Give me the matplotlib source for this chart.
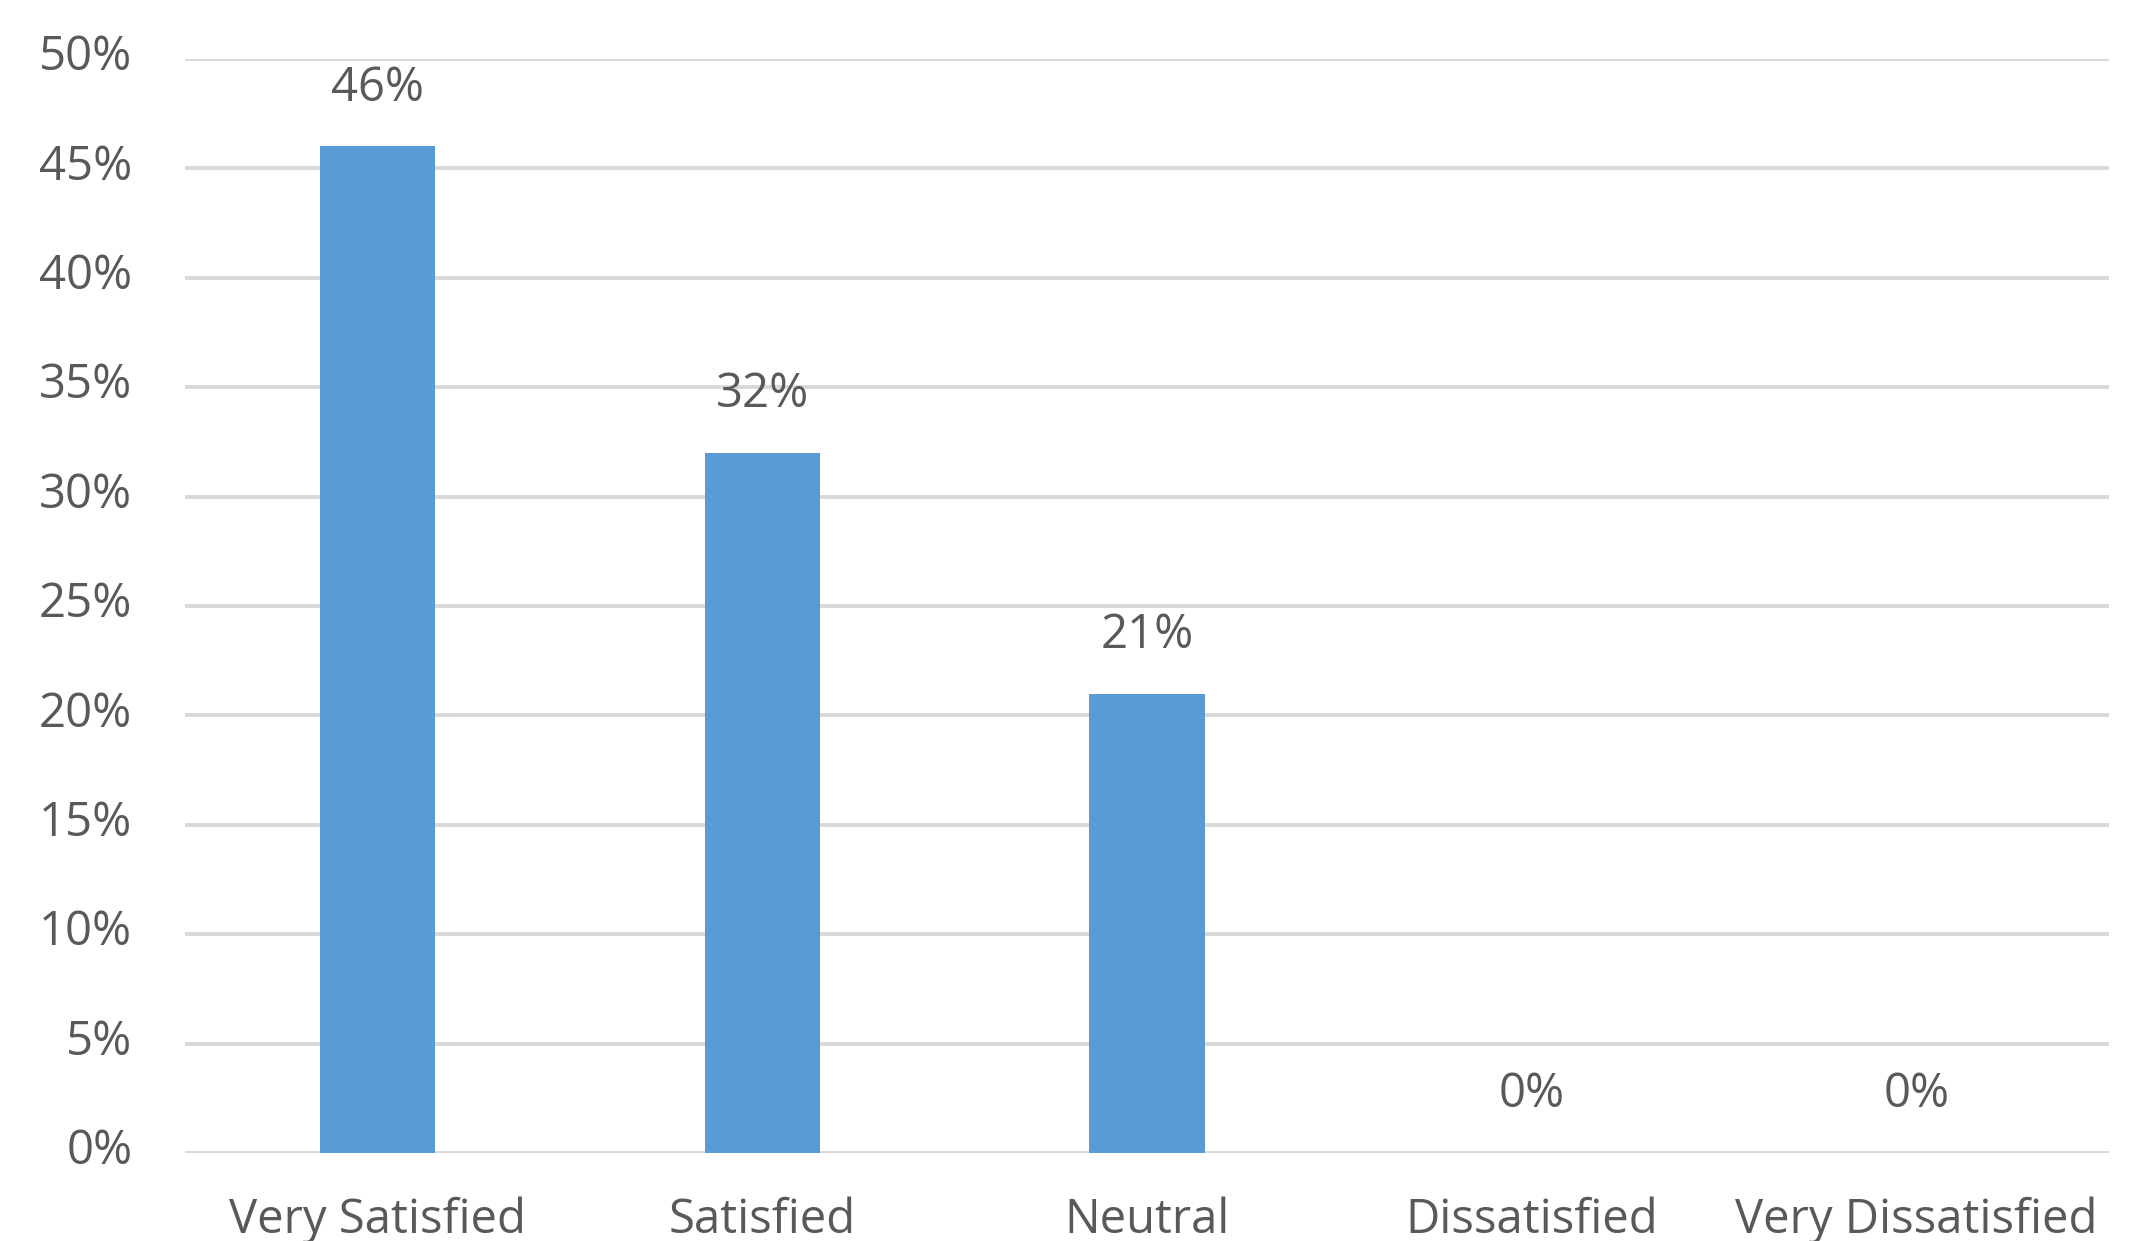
import matplotlib
matplotlib.use('Agg')
import matplotlib.pyplot as plt
import matplotlib.transforms as mtransforms
from matplotlib.ticker import PercentFormatter

categories = ['Very Satisfied', 'Satisfied', 'Neutral', 'Dissatisfied', 'Very Dissatisfied']
values = [0.46, 0.32, 0.21, 0.0, 0.0]
y_ticks = [0, 0.05, 0.10, 0.15, 0.20, 0.25, 0.30, 0.35, 0.40, 0.45, 0.50]

text_color = '#595959'
plt.rcParams['font.family'] = ['Open Sans', 'DejaVu Sans']

fig = plt.figure(figsize=(21.47, 12.41), dpi=100)
ax = fig.add_axes([0.0862, 0.0709, 0.8961, 0.8816])

x = range(len(categories))
bars = ax.bar(x, values, width=0.30, color='#5B9BD5', zorder=3)

for b, v in zip(bars, values):
    ax.annotate(f'{v:.0%}', (b.get_x() + b.get_width() / 2, v),
                xytext=(0, 42), textcoords='offset points',
                ha='center', va='center', fontsize=34, color=text_color)

ax.set_xlim(-0.5, len(categories) - 0.5)
ax.set_ylim(0, 0.5)
ax.set_yticks(y_ticks)
ax.yaxis.set_major_formatter(PercentFormatter(1.0, decimals=0))
ax.set_xticks(list(x))
ax.set_xticklabels(categories)

ax.grid(axis='y', color='#D9D9D9', linewidth=2.8, zorder=0)
for s in ax.spines.values():
    s.set_visible(False)
ax.tick_params(axis='both', length=0, labelsize=34, labelcolor=text_color)
ax.tick_params(axis='y', pad=38)
ax.tick_params(axis='x', pad=31)

# y tick labels sit a little above their gridlines in the original
shift = mtransforms.ScaledTranslation(0, 7 / 100, fig.dpi_scale_trans)
for lbl in ax.get_yticklabels():
    lbl.set_transform(lbl.get_transform() + shift)

fig.savefig('out.png', dpi=100)
